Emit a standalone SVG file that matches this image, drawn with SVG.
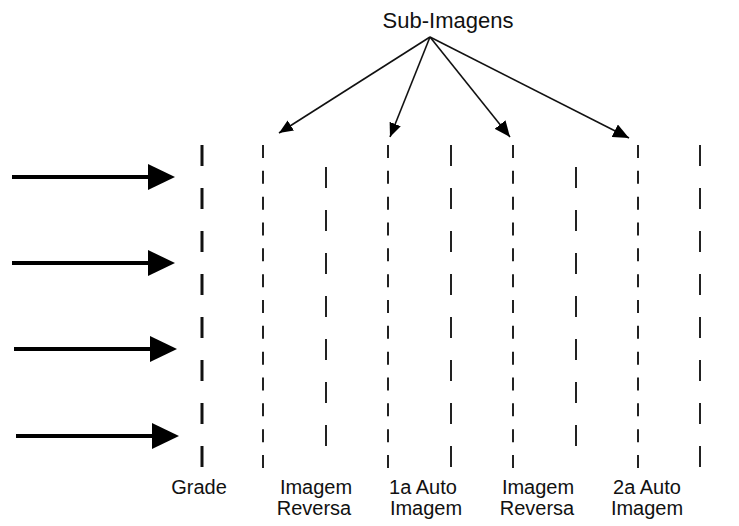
<svg xmlns="http://www.w3.org/2000/svg" width="739" height="526" viewBox="0 0 739 526">
<style>
text{font-family:"Liberation Sans",Arial,sans-serif;fill:#111;text-anchor:middle}
.lbl{font-size:20px}
.title{font-size:22px}
.grade{stroke:#111;stroke-width:3;stroke-dasharray:21 22}
.sub{stroke:#222;stroke-width:2;stroke-dasharray:13 12.83}
.rev{stroke:#222;stroke-width:2;stroke-dasharray:21 22}
.shaft{stroke:#000;stroke-width:4}
.ptr{stroke:#111;stroke-width:1.6;fill:none;marker-end:url(#ah)}
.ptr2{stroke:#111;stroke-width:1.6;fill:none;marker-end:url(#ah2)}
</style>
<defs>
<marker id="ah" viewBox="0 0 14 12" refX="14" refY="6" markerWidth="14" markerHeight="12" markerUnits="userSpaceOnUse" orient="auto">
<path d="M0,0 L14,6 L0,12 z" fill="#000"/>
</marker>
<marker id="ah2" viewBox="0 0 16 14" refX="16" refY="7" markerWidth="16" markerHeight="14" markerUnits="userSpaceOnUse" orient="auto">
<path d="M0,0 L16,7 L0,14 z" fill="#000"/>
</marker>
</defs>
<rect width="739" height="526" fill="#fff"/>
<g id="title"><text class="title" x="448" y="28">Sub-Imagens</text></g>
<g id="grade">
<line class="grade" x1="202" y1="145" x2="202" y2="468"/>
<text class="lbl" x="199" y="494">Grade</text>
</g>
<g id="sub1"><line class="sub" x1="263" y1="145" x2="263" y2="468"/></g>
<g id="rev1">
<line class="rev" x1="326" y1="167" x2="326" y2="447"/>
<text class="lbl" x="316" y="494">Imagem</text>
<text class="lbl" x="314" y="515">Reversa</text>
</g>
<g id="sub2"><line class="sub" x1="388" y1="145" x2="388" y2="468"/></g>
<g id="auto1">
<line class="rev" x1="451" y1="145" x2="451" y2="468"/>
<text class="lbl" x="423" y="494">1a Auto</text>
<text class="lbl" x="426" y="515">Imagem</text>
</g>
<g id="sub3"><line class="sub" x1="513" y1="145" x2="513" y2="468"/></g>
<g id="rev2">
<line class="rev" x1="576" y1="167" x2="576" y2="447"/>
<text class="lbl" x="538" y="494">Imagem</text>
<text class="lbl" x="537" y="515">Reversa</text>
</g>
<g id="sub4"><line class="sub" x1="638" y1="145" x2="638" y2="468"/></g>
<g id="auto2">
<line class="rev" x1="700" y1="145" x2="700" y2="468"/>
<text class="lbl" x="647" y="494">2a Auto</text>
<text class="lbl" x="647" y="515">Imagem</text>
</g>
<g id="connectors">
<line class="shaft" x1="12" y1="177" x2="150" y2="177"/>
<polygon points="148,164 175,177 148,190" fill="#000"/>
<line class="shaft" x1="12" y1="263" x2="150" y2="263"/>
<polygon points="148,250 175,263 148,276" fill="#000"/>
<line class="shaft" x1="14" y1="349" x2="152" y2="349"/>
<polygon points="150,336 177,349 150,362" fill="#000"/>
<line class="shaft" x1="16" y1="436" x2="154" y2="436"/>
<polygon points="152,423 179,436 152,449" fill="#000"/>
<line class="ptr" x1="430" y1="37" x2="279" y2="133"/>
<line class="ptr" x1="430" y1="37" x2="390" y2="137"/>
<line class="ptr2" x1="430" y1="37" x2="510" y2="137"/>
<line class="ptr2" x1="430" y1="37" x2="629" y2="138"/>
</g>
</svg>
